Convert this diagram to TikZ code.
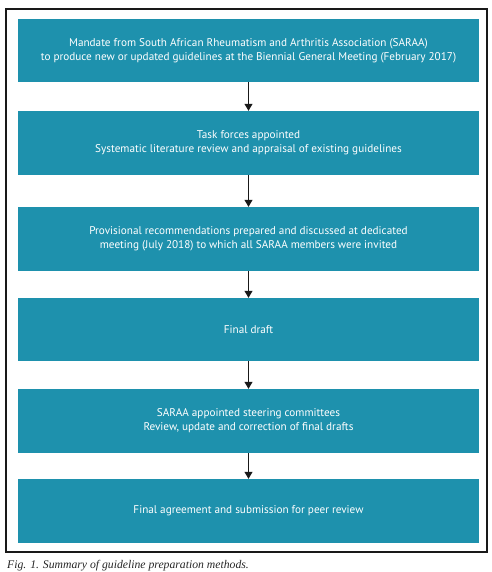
\documentclass[tikz,border=0pt]{standalone}
\usepackage{fontspec}
\setmainfont{Liberation Serif}
\newfontfamily\boxfont{PT Sans}
\usetikzlibrary{arrows.meta}
\definecolor{teal1}{RGB}{30,145,173}
\begin{document}
\begin{tikzpicture}[x=1pt,y=-1pt,
  stepbox/.style={fill=teal1, draw=none, minimum width=461pt, text=white, font=\boxfont\fontsize{11.2}{14}\selectfont, align=center, inner sep=0pt},
  conn/.style={draw=black!90, line width=1pt, -{Triangle[width=8pt,length=7pt]}}]
\useasboundingbox (0,0) rectangle (491,572);
\draw[line width=1.2pt, black!90] (6,9) rectangle (487,552);
\node[stepbox, minimum height=63pt] (b1) at (248.5,50.5) {Mandate from South African Rheumatism and Arthritis Association (SARAA)\\to produce new or updated guidelines at the Biennial General Meeting (February 2017)};
\node[stepbox, minimum height=63.5pt] (b2) at (248.5,142.75) {Task forces appointed\\Systematic literature review and appraisal of existing guidelines};
\node[stepbox, minimum height=64pt] (b3) at (248.5,239) {Provisional recommendations prepared and discussed at dedicated\\meeting (July 2018) to which all SARAA members were invited};
\node[stepbox, minimum height=63pt] (b4) at (248.5,329.5) {Final draft};
\node[stepbox, minimum height=64pt] (b5) at (248.5,421) {SARAA appointed steering committees\\Review, update and correction of final drafts};
\node[stepbox, minimum height=64pt] (b6) at (248.5,511) {Final agreement and submission for peer review};
\draw[conn] (b1.south) -- (b2.north);
\draw[conn] (b2.south) -- (b3.north);
\draw[conn] (b3.south) -- (b4.north);
\draw[conn] (b4.south) -- (b5.north);
\draw[conn] (b5.south) -- (b6.north);
\node[anchor=base west, inner sep=0pt, font=\itshape\fontsize{11.7}{13}\selectfont, text=black!85] (cap) at (7,568) {Fig. 1. Summary of guideline preparation methods.};
\end{tikzpicture}
\end{document}
